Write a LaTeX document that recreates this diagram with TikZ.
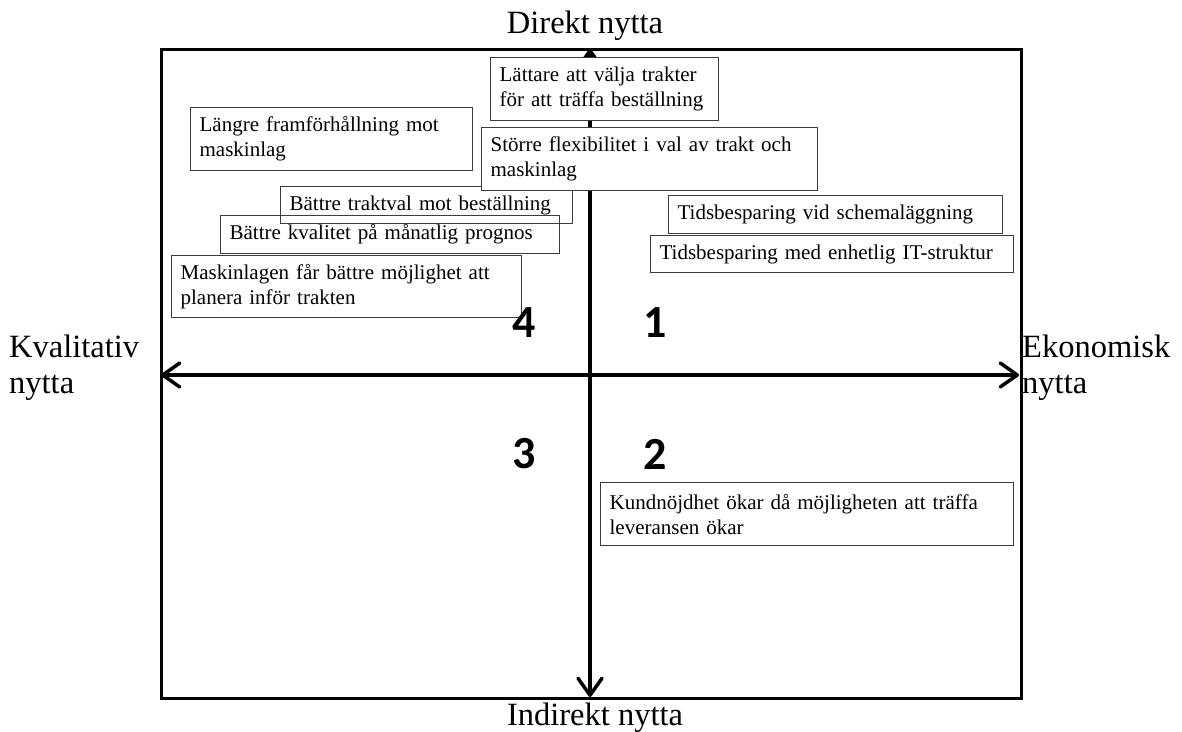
\documentclass[tikz,border=0pt]{standalone}
\usepackage{fontspec}
\setmainfont{Liberation Serif}
\newfontfamily\numfont{Carlito}
\usetikzlibrary{arrows.meta}
\definecolor{boxgray}{HTML}{3C3C3C}
\begin{document}
\begin{tikzpicture}[x=1pt,y=-1pt,
  tbox/.style={draw=boxgray, line width=1.2pt, fill=white, anchor=north west,
    align=left, inner xsep=9pt, inner ysep=0pt,
    font=\fontsize{21}{25}\selectfont,
    execute at begin node={\hyphenpenalty=10000\relax\hbadness=10000\relax}},
  barb/.tip={Straight Barb[length=17pt,width=24pt,line cap=round,line join=round]},
  axisline/.style={line width=3.5pt, barb-barb},
  lbl/.style={inner sep=2pt, font=\fontsize{32.5}{36}\selectfont},
  num/.style={inner sep=0pt, font=\numfont\bfseries\fontsize{46}{46}\selectfont}
]
\useasboundingbox (0,0) rectangle (1182,731);

% outer frame
\node[draw, line width=3pt, anchor=north west, inner sep=0pt,
      minimum width=860pt, minimum height=649pt] (frame) at (160,48) {};

% axes
\coordinate (axL) at (161,375);
\coordinate (axR) at (1019,375);
\coordinate (axT) at (590,49);
\coordinate (axB) at (590,697);
\draw[axisline] (axL) -- (axR);
\draw[axisline] (axT) -- (axB);

% statements
\node[tbox, text width=264pt, minimum height=63pt] (lang) at (190,107)
  {Längre framförhållning  mot\\maskinlag};
\node[tbox, text width=210pt, minimum height=63pt] (latt) at (490,57)
  {Lättare att välja trakter\\för att träffa beställning};
\node[tbox, text width=274pt, minimum height=37pt] (trakt) at (280,186)
  {Bättre traktval mot beställning};
\node[tbox, text width=318pt, minimum height=63pt] (flex) at (481,127)
  {Större flexibilitet i val av trakt och\\maskinlag};
\node[tbox, fill=none, text width=321pt, minimum height=38pt] (kval) at (220,215)
  {Bättre kvalitet på  månatlig prognos};
\node[tbox, text width=332pt, minimum height=62pt] (mask) at (171,255)
  {Maskinlagen får bättre möjlighet  att\\planera inför trakten};
\node[tbox, text width=316pt, minimum height=38pt] (schema) at (668,195)
  {Tidsbesparing vid schemaläggning};
\node[tbox, text width=345pt, minimum height=37pt] (itstr) at (650,235)
  {Tidsbesparing med enhetlig IT-struktur};
\node[tbox, text width=395pt, minimum height=63pt] (kund) at (600,482)
  {Kundnöjdhet ökar då möjligheten  att träffa\\leveransen ökar};

% quadrant numbers
\node[num] (q4) at (524,323) {4};
\node[num] (q1) at (655,323) {1};
\node[num] (q3) at (524,454) {3};
\node[num] (q2) at (655,454) {2};

% axis labels
\node[lbl, anchor=base] (direkt) at (585,33) {Direkt nytta};
\node[lbl, anchor=base] (indirekt) at (595,725) {Indirekt nytta};
\node[lbl, anchor=west, align=left] (kvalitativ) at (7,368) {Kvalitativ\\nytta};
\node[lbl, anchor=west, align=left] (ekonomisk) at (1020,368) {Ekonomisk\\nytta};
\end{tikzpicture}
\end{document}
